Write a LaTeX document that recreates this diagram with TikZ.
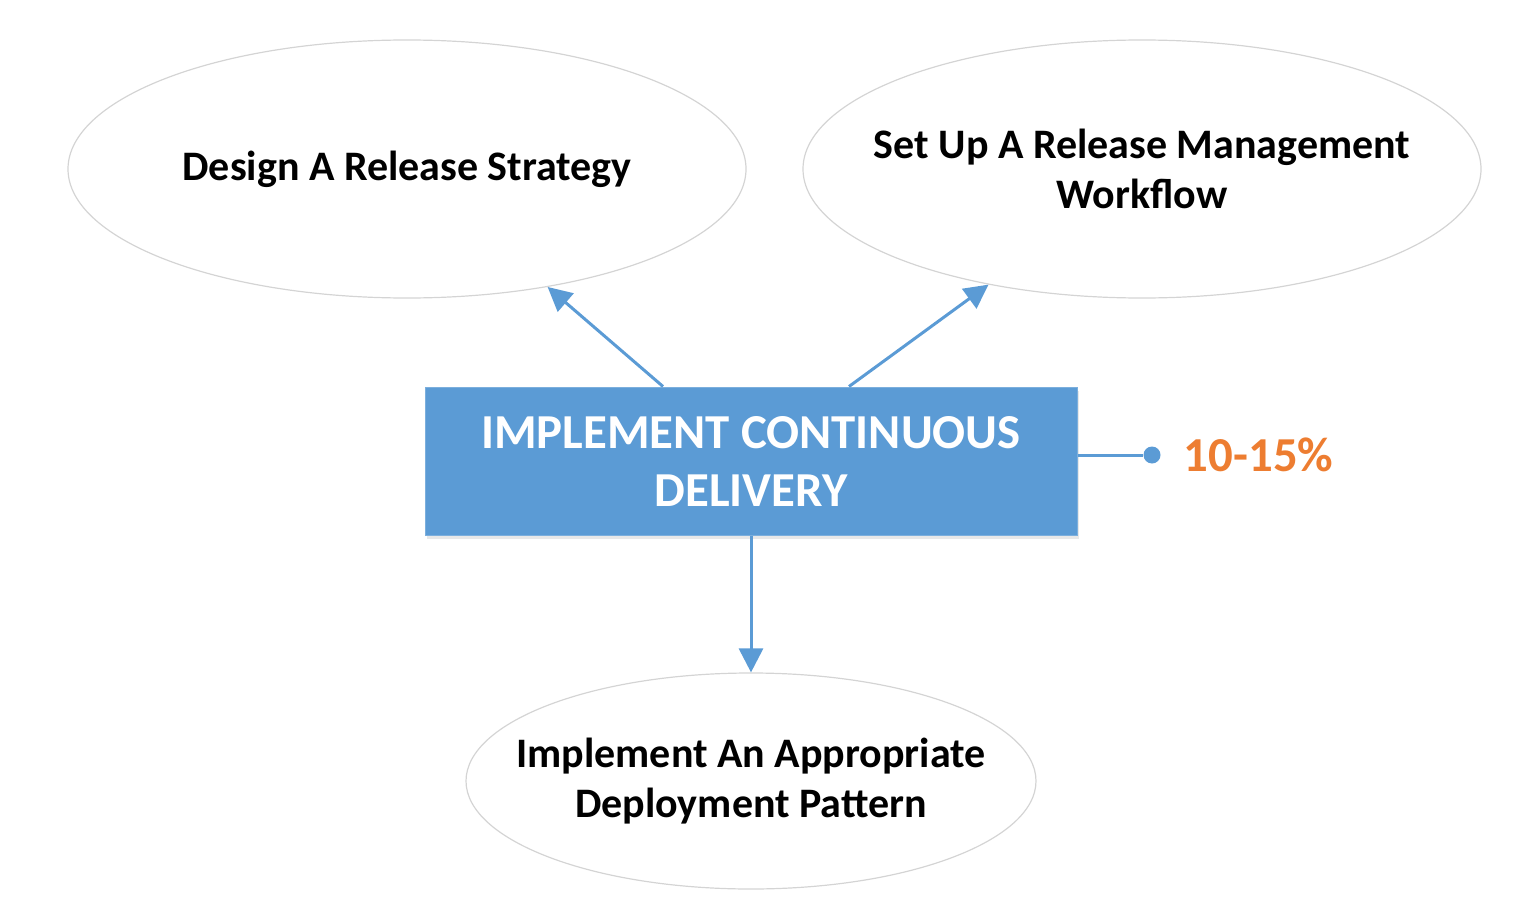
\documentclass[tikz,border=0pt]{standalone}
\usepackage{fontspec}
\setmainfont{Carlito}
\usepackage{xcolor}
\usetikzlibrary{shapes, arrows.meta, positioning, shadows}
\definecolor{boxblue}{HTML}{5B9BD5}
\definecolor{pctorange}{HTML}{ED7D31}
\definecolor{rimgray}{HTML}{D4D4D4}
\tikzset{
    bubble/.style = {ellipse, draw=rimgray, line width=0.6pt, inner sep=0pt},
    bubtext/.style = {font=\fontsize{21}{25}\selectfont\bfseries, align=center, text=black},
    mainbox/.style = {rectangle, fill=boxblue, draw=boxblue!80!white, line width=0.5pt, minimum width=326pt, minimum height=74pt, text=white, align=center, font=\fontsize{24.4}{29}\selectfont\bfseries, drop shadow={shadow xshift=1pt, shadow yshift=-2pt, opacity=0.18}},
    arr/.style = {draw=boxblue, line width=1.5pt, -{Triangle[length=12pt, width=12pt]}}
}

\begin{document}
\begin{tikzpicture}[x=0.5pt, y=-0.5pt]
        \useasboundingbox (0,0) rectangle (1536,915);

        % Nodes
        \node[bubble, minimum width=339pt, minimum height=129pt, label={[bubtext]center:Design A Release Strategy}] (design) at (407,169) {};
        \node[bubble, minimum width=339pt, minimum height=129pt, label={[bubtext]center:Set Up A Release Management\\Workflow}] (workflow) at (1142,169) {};
        \node[bubble, minimum width=285pt, minimum height=108pt, label={[bubtext]center:Implement An Appropriate\\Deployment Pattern}] (pattern) at (751,781) {};
        \node[mainbox] (delivery) at (751,461) {IMPLEMENT CONTINUOUS\\DELIVERY};

        % Percentage
        \node[circle, fill=boxblue, inner sep=0pt, minimum size=8.5pt] (dot) at (1152,455) {};
        \node[right=8pt of dot, text=pctorange, font=\fontsize{24.4}{28}\selectfont\bfseries] (share) {10-15\%};

        % Arrows
        \draw[arr] ([xshift=-44pt]delivery.north) -- (design.-40);
        \draw[arr] ([xshift=49pt]delivery.north) -- (workflow.217);
        \draw[arr] (delivery.south) -- (pattern.north);
        \draw[draw=boxblue, line width=1.5pt] ([yshift=3pt]delivery.east) -- (dot);
    \end{tikzpicture}
\end{document}
